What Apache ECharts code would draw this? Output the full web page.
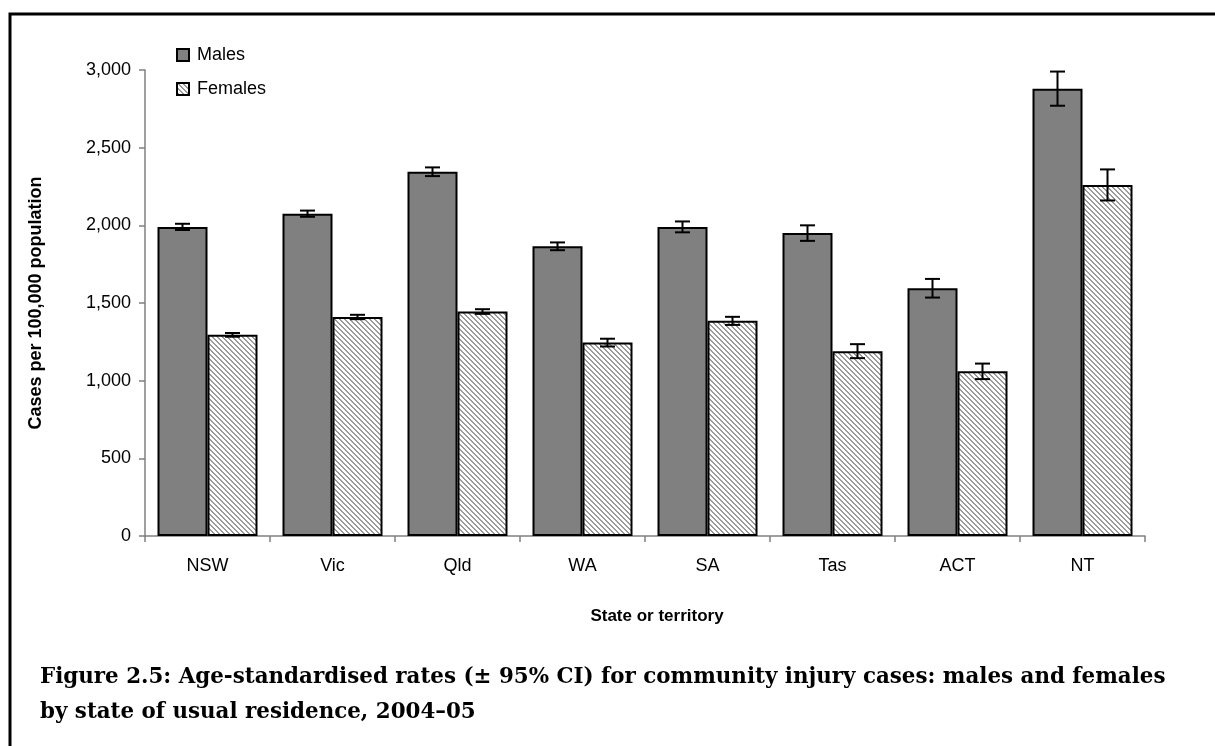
<!DOCTYPE html>
<html>
<head>
<meta charset="utf-8">
<script src="https://cdn.jsdelivr.net/npm/echarts@6/dist/echarts.min.js"></script>
<style>
  html, body { margin: 0; padding: 0; background: #fff; }
  #c1 { width: 1215px; height: 746px; }
</style>
</head>
<body>
<div id="c1"></div>
<script>
const states = ['NSW', 'Vic', 'Qld', 'WA', 'SA', 'Tas', 'ACT', 'NT']
const males = [1990, 2075, 2345, 1865, 1990, 1950, 1595, 2880]
const malesCI = [20, 20, 28, 25, 35, 50, 60, 110]
const females = [1295, 1410, 1445, 1245, 1385, 1190, 1060, 2260]
const femalesCI = [12, 14, 15, 25, 26, 45, 50, 100]

// diagonal hatch for females
const makeHatch = () => {
  const size = 10
  const cv = document.createElement('canvas')
  cv.width = size
  cv.height = size
  const ctx = cv.getContext('2d')
  const img = ctx.createImageData(size, size)
  for (let y = 0; y < size; y++) {
    for (let x = 0; x < size; x++) {
      const k = (y * size + x) * 4
      const on = ((x - y + 100) % 5) < 2
      const c = on ? 155 : 255
      img.data[k] = c
      img.data[k + 1] = c
      img.data[k + 2] = c
      img.data[k + 3] = 255
    }
  }
  ctx.putImageData(img, 0, 0)
  return cv
}
const hatch = { image: makeHatch(), repeat: 'repeat' }

const errorBars = (vals, ci, offset) => ({
  type: 'custom',
  z: 10,
  silent: true,
  encode: { x: 0, y: [1, 2, 3] },
  data: vals.map((v, i) => [i, v, v + ci[i], v - ci[i]]),
  renderItem: (params, api) => {
    const i = api.value(0)
    const hi = api.coord([i, api.value(2)])
    const lo = api.coord([i, api.value(3)])
    const band = api.size([1, 0])[0]
    const x = hi[0] + offset * band
    const cap = 7.5
    const style = { stroke: '#000', lineWidth: 2 }
    return {
      type: 'group',
      children: [
        { type: 'line', shape: { x1: x, y1: hi[1], x2: x, y2: lo[1] }, style },
        { type: 'line', shape: { x1: x - cap, y1: hi[1], x2: x + cap, y2: hi[1] }, style },
        { type: 'line', shape: { x1: x - cap, y1: lo[1], x2: x + cap, y2: lo[1] }, style }
      ]
    }
  }
})

const myChart = echarts.init(document.getElementById('c1'))
const font = 'Liberation Sans, Arial, sans-serif'
const option = {
  animation: false,
  textStyle: { fontFamily: font },
  graphic: [
    {
      type: 'rect',
      shape: { x: 10, y: 14, width: 1300, height: 900 },
      style: { fill: 'none', stroke: '#000', lineWidth: 3 },
      silent: true
    },
    {
      type: 'text',
      left: 40,
      top: 660,
      style: {
        text: 'Figure 2.5: Age-standardised rates (± 95% CI) for community injury cases: males and females\nby state of usual residence, 2004–05',
        font: 'bold 21.4px "DejaVu Serif", serif',
        lineHeight: 35,
        fill: '#000'
      }
    }
  ],
  legend: {
    data: ['Males', 'Females'],
    orient: 'vertical',
    left: 171,
    top: 41,
    itemWidth: 12,
    itemHeight: 12,
    itemGap: 16,
    icon: 'rect',
    textStyle: { fontSize: 18, color: '#000', fontFamily: font, padding: [0, 0, 0, 3] },
    selectedMode: false
  },
  grid: {
    left: 145,
    right: 70,
    top: 70,
    bottom: 210
  },
  xAxis: {
    type: 'category',
    data: states,
    name: 'State or territory',
    nameLocation: 'middle',
    nameGap: 72,
    nameTextStyle: { fontSize: 17, fontWeight: 'bold', color: '#000', fontFamily: font, padding: [0, 0, 0, 24] },
    axisLine: { lineStyle: { color: '#808080', width: 1.5 } },
    axisTick: { show: true, length: 6, lineStyle: { color: '#808080', width: 1.5 } },
    axisLabel: { fontSize: 18, color: '#000', margin: 21 }
  },
  yAxis: {
    type: 'value',
    min: 0,
    max: 3000,
    interval: 500,
    name: 'Cases per 100,000 population',
    nameLocation: 'middle',
    nameGap: 100,
    nameTextStyle: { fontSize: 18, fontWeight: 'bold', color: '#000', fontFamily: font },
    splitLine: { show: false },
    axisLine: { show: true, lineStyle: { color: '#808080', width: 1.5 } },
    axisTick: { show: true, length: 6, lineStyle: { color: '#808080', width: 1.5 } },
    axisLabel: {
      fontSize: 18,
      color: '#000',
      margin: 14,
      formatter: v => v.toLocaleString('en-US')
    }
  },
  series: [
    {
      name: 'Males',
      type: 'bar',
      data: males,
      barGap: '0%',
      barCategoryGap: '20%',
      itemStyle: { color: '#808080', borderColor: '#000', borderWidth: 2 }
    },
    {
      name: 'Females',
      type: 'bar',
      data: females,
      itemStyle: { color: hatch, borderColor: '#000', borderWidth: 2 }
    },
    errorBars(males, malesCI, -0.2),
    errorBars(females, femalesCI, 0.2)
  ]
}
myChart.setOption(option)
</script>
</body>
</html>
